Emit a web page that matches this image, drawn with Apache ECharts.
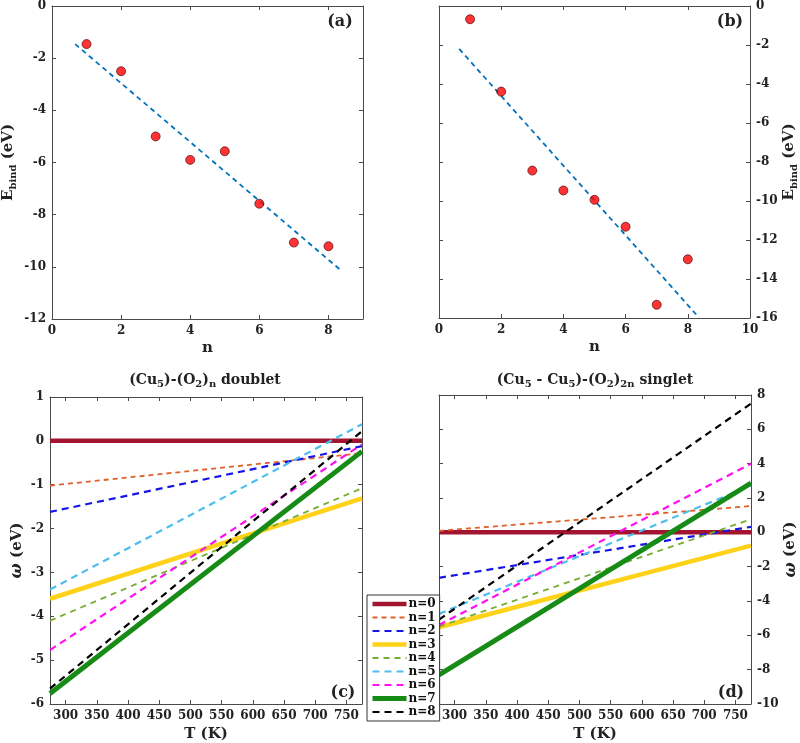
<!DOCTYPE html>
<html><head><meta charset="utf-8">
<script src="https://cdn.jsdelivr.net/npm/echarts@6/dist/echarts.min.js"></script>
<style>html,body{margin:0;padding:0;background:#fff}#c{width:800px;height:743px}</style>
</head><body><div id="c"></div>
<script>
// ---------- data ----------
const nValues = [1, 2, 3, 4, 5, 6, 7, 8];
const ebindDoublet = [-1.46, -2.50, -5.00, -5.90, -5.57, -7.58, -9.07, -9.21];
const ebindSinglet = [-0.68, -4.39, -8.44, -9.46, -9.94, -11.32, -15.32, -12.99];
const fitDoubletN = [0.67, 8.33];
const fitDoubletE = [-1.46, -10.10];
const fitSingletN = [0.65, 8.36];
const fitSingletE = [-2.20, -15.98];
const temps = [275, 775];
const seriesNames = ['n=0', 'n=1', 'n=2', 'n=3', 'n=4', 'n=5', 'n=6', 'n=7', 'n=8'];
const omegaDoublet = [[0, 0], [-1.02, -0.28], [-1.62, -0.12], [-3.60, -1.31], [-4.10, -1.08],
  [-3.39, 0.38], [-4.77, -0.08], [-5.76, -0.24], [-5.65, 0.22]];
const omegaSinglet = [[0, 0], [0.09, 1.53], [-2.65, 0.32], [-5.53, -0.77], [-5.49, 0.76],
  [-4.75, 2.72], [-5.40, 4.00], [-8.30, 2.86], [-5.08, 7.50]];
const tTicks = [300, 350, 400, 450, 500, 550, 600, 650, 700, 750];

// ---------- styles ----------
const colors = ['#A2142F', '#E0622A', '#1515E6', '#FFD21A', '#77AC30', '#4DBEEE', '#FF10F0', '#168C16', '#000000'];
const widths = [4.5, 1.8, 2.2, 4.5, 1.8, 2.2, 2.2, 5, 2.2];
const dashes = [null, [5, 4], [7, 5], null, [6, 5], [7, 5], [7, 5], null, [7, 5]];
const font = 'DejaVu Serif';
const axisColor = '#4a4a4a';

function axis(extra) {
  const base = {
    type: 'value',
    axisLine: {show: true, onZero: false, lineStyle: {color: axisColor, width: 1}},
    axisTick: {show: true, inside: true, length: 4, lineStyle: {color: axisColor}},
    splitLine: {show: false},
    axisLabel: {color: '#222', fontFamily: font, fontWeight: 'bold', fontSize: 12, margin: 6},
    nameTextStyle: {color: '#222', fontFamily: font, fontWeight: 'bold', fontSize: 15,
      rich: {
        sub: {fontFamily: font, fontWeight: 'bold', fontSize: 10, color: '#222', padding: [9, 0, 0, 0]},
        it: {fontFamily: font, fontWeight: 'bold', fontStyle: 'italic', fontSize: 16, color: '#222'}
      }}
  };
  return Object.assign(base, extra);
}
const noLabel = {show: false};

const xAxes = [
  axis({gridIndex: 0, position: 'bottom', min: 0, max: 9, interval: 2,
    axisLabel: Object.assign(axis({}).axisLabel, {showMaxLabel: false}),
    name: 'n', nameLocation: 'middle', nameGap: 22}),
  axis({gridIndex: 0, position: 'top', min: 0, max: 9, interval: 2, axisLabel: noLabel}),
  axis({gridIndex: 1, position: 'bottom', min: 0, max: 10, interval: 2,
    name: 'n', nameLocation: 'middle', nameGap: 22}),
  axis({gridIndex: 1, position: 'top', min: 0, max: 10, interval: 2, axisLabel: noLabel}),
  axis({gridIndex: 2, position: 'bottom', min: 275, max: 775,
    axisLabel: Object.assign(axis({}).axisLabel, {customValues: tTicks}),
    axisTick: Object.assign(axis({}).axisTick, {customValues: tTicks}),
    name: 'T (K)', nameLocation: 'middle', nameGap: 23}),
  axis({gridIndex: 2, position: 'top', min: 275, max: 775, axisLabel: noLabel,
    axisTick: Object.assign(axis({}).axisTick, {customValues: tTicks})}),
  axis({gridIndex: 3, position: 'bottom', min: 275, max: 775,
    axisLabel: Object.assign(axis({}).axisLabel, {customValues: tTicks}),
    axisTick: Object.assign(axis({}).axisTick, {customValues: tTicks}),
    name: 'T (K)', nameLocation: 'middle', nameGap: 23}),
  axis({gridIndex: 3, position: 'top', min: 275, max: 775, axisLabel: noLabel,
    axisTick: Object.assign(axis({}).axisTick, {customValues: tTicks})})
];
const yAxes = [
  axis({gridIndex: 0, position: 'left', min: -12, max: 0, interval: 2,
    name: 'E{sub|bind} (eV)', nameLocation: 'middle', nameRotate: 90, nameGap: 34}),
  axis({gridIndex: 0, position: 'right', min: -12, max: 0, interval: 2, axisLabel: noLabel}),
  axis({gridIndex: 1, position: 'right', min: -16, max: 0, interval: 2,
    name: 'E{sub|bind} (eV)', nameLocation: 'middle', nameRotate: 90, nameGap: 30}),
  axis({gridIndex: 1, position: 'left', min: -16, max: 0, interval: 2, axisLabel: noLabel}),
  axis({gridIndex: 2, position: 'left', min: -6, max: 1, interval: 1,
    name: '{it|ω} (eV)', nameLocation: 'middle', nameRotate: 90, nameGap: 25}),
  axis({gridIndex: 2, position: 'right', min: -6, max: 1, interval: 1, axisLabel: noLabel}),
  axis({gridIndex: 3, position: 'right', min: -10, max: 8, interval: 2,
    name: '{it|ω} (eV)', nameLocation: 'middle', nameRotate: 90, nameGap: 28}),
  axis({gridIndex: 3, position: 'left', min: -10, max: 8, interval: 2, axisLabel: noLabel})
];

const series = [];
function pts(xs, ys) { return xs.map((x, i) => [x, ys[i]]); }
series.push({type: 'line', xAxisIndex: 0, yAxisIndex: 0, data: pts(fitDoubletN, fitDoubletE), symbol: 'none',
  lineStyle: {color: '#0072BD', width: 1.8, type: [5, 4]}, silent: true, z: 2});
series.push({type: 'scatter', xAxisIndex: 0, yAxisIndex: 0, data: pts(nValues, ebindDoublet), symbolSize: 9,
  itemStyle: {color: '#FF0000', borderColor: '#3a0000', borderWidth: 0.8}, z: 3});
series.push({type: 'line', xAxisIndex: 2, yAxisIndex: 2, data: pts(fitSingletN, fitSingletE), symbol: 'none',
  lineStyle: {color: '#0072BD', width: 1.8, type: [5, 4]}, silent: true, z: 2});
series.push({type: 'scatter', xAxisIndex: 2, yAxisIndex: 2, data: pts(nValues, ebindSinglet), symbolSize: 9,
  itemStyle: {color: '#FF0000', borderColor: '#3a0000', borderWidth: 0.8}, z: 3});

function lineStyleFor(k) {
  return {color: colors[k], width: widths[k], type: dashes[k] ? dashes[k] : 'solid', cap: 'butt'};
}
[[omegaDoublet, 4, 4], [omegaSinglet, 6, 6]].forEach(([vals, xi, yi]) => {
  vals.forEach((v, k) => {
    series.push({
      type: 'line', name: seriesNames[k], xAxisIndex: xi, yAxisIndex: yi,
      data: pts(temps, v), symbol: 'none', silent: true,
      lineStyle: lineStyleFor(k),
      itemStyle: {color: colors[k]}, z: 2
    });
  });
});

const titleRich = {
  s: {fontFamily: font, fontWeight: 'bold', fontSize: 10, fill: '#222', padding: [9, 0, 0, 0]},
  m: {fontFamily: font, fontWeight: 'bold', fontSize: 14, fill: '#222'}
};
function txt(x, y, text, size) {
  return {type: 'text', x: x, y: y, z: 100,
    style: {text: text, fill: '#222', font: 'bold ' + size + 'px "' + font + '"', align: 'center', verticalAlign: 'middle'}};
}
function richTxt(x, y, text) {
  return {type: 'text', x: x, y: y, z: 100,
    style: {text: text, fill: '#222', font: 'bold 14px "' + font + '"', align: 'center', verticalAlign: 'middle', rich: titleRich}};
}

const option = {
  animation: false,
  backgroundColor: '#fff',
  grid: [
    {left: 50, top: 5, width: 313, height: 314},
    {left: 439, top: 5, width: 311, height: 313},
    {left: 50, top: 397, width: 312, height: 311},
    {left: 439, top: 395, width: 312, height: 313}
  ],
  xAxis: xAxes,
  yAxis: yAxes,
  legend: {
    data: seriesNames.map((nm, k) => ({name: nm, lineStyle: lineStyleFor(k), itemStyle: {opacity: 0}})),
    orient: 'vertical', left: 367, top: 595,
    itemWidth: 34, itemHeight: 10, itemGap: 1.5, padding: [3, 4, 3, 3],
    borderColor: '#333', borderWidth: 1, backgroundColor: '#fff', z: 50,
    selectedMode: false,
    itemStyle: {opacity: 0},
    textStyle: {fontFamily: font, fontWeight: 'bold', fontSize: 12, color: '#111', padding: [0, 0, 0, -3]}
  },
  graphic: [
    txt(340, 22, '(a)', 16),
    txt(730, 22, '(b)', 16),
    txt(343, 693, '(c)', 16),
    txt(731, 693, '(d)', 16),
    richTxt(205, 380, '{m|(Cu}{s|5}{m|)-(O}{s|2}{m|)}{s|n}{m| doublet}'),
    richTxt(595, 380, '{m|(Cu}{s|5}{m| - Cu}{s|5}{m|)-(O}{s|2}{m|)}{s|2n}{m| singlet}')
  ],
  series: series
};
const chart = echarts.init(document.getElementById('c'), null, {renderer: 'canvas'});
chart.setOption(option);
</script>
</body></html>
